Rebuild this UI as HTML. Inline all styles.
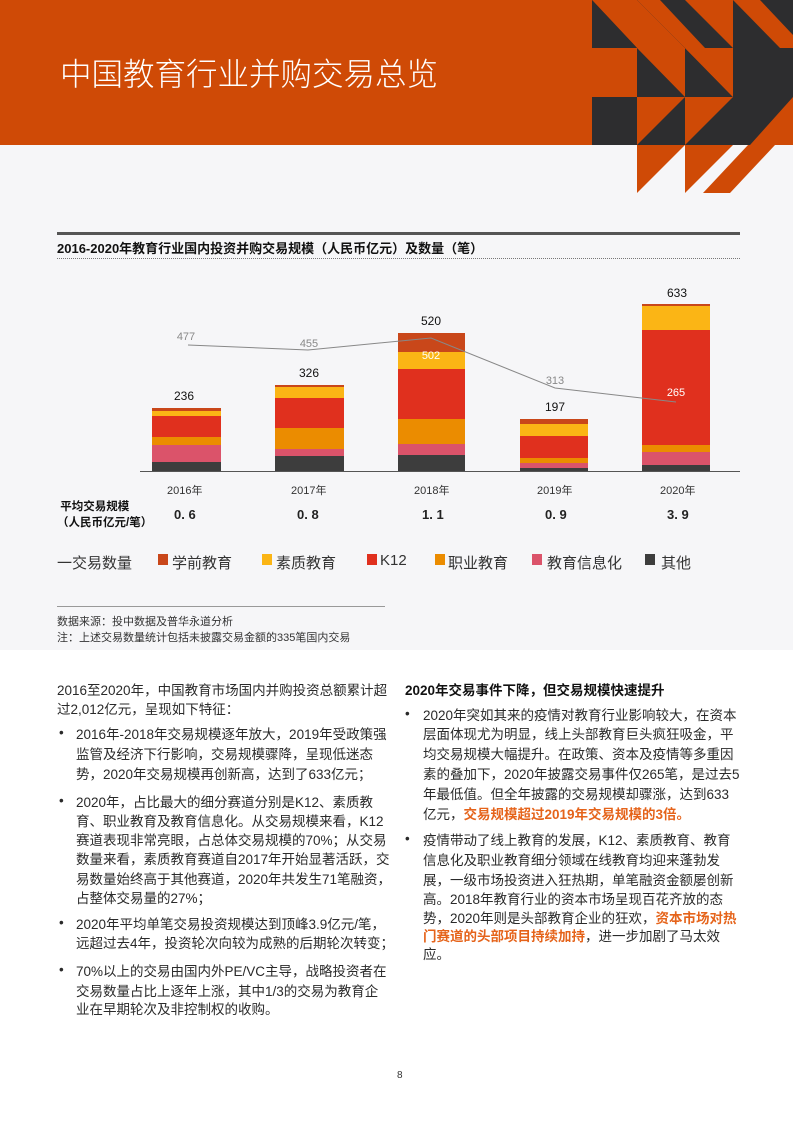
<!DOCTYPE html>
<html><head><meta charset="utf-8"><style>
*{margin:0;padding:0}
body{width:793px;height:1122px;position:relative;background:#fff;font-family:"Liberation Sans","Noto Sans CJK SC",sans-serif;overflow:hidden;color:#222}
.t{position:absolute;white-space:nowrap}
.l{font-size:13.5px;color:#2a2a2a}
.hl{color:#e5631a;font-weight:bold}
</style></head><body>
<div style="position:absolute;left:0;top:0;width:793px;height:650px;background:#f6f6f8"></div>
<div style="position:absolute;left:0;top:0;width:592px;height:145px;background:#cf4a06"></div>
<div class="t" style="left:60px;top:49px;font-size:31.5px;color:#fff;font-family:'Noto Sans CJK SC',sans-serif;font-weight:300">中国教育行业并购交易总览</div>
<svg style="position:absolute;left:0;top:0" width="793" height="200">
<rect x="592" y="0" width="201" height="145" fill="#2d2d2f"/>
<polygon points="592,0 637,0 685,48 637,48 592,0" fill="#cf4a06"/>
<polygon points="637,0 685,0 733,48 685,48" fill="#2d2d2f"/>
<polygon points="592,0 637,48 592,48" fill="#2d2d2f"/>
<polygon points="637,0 660,0 705,48 685,48" fill="#cf4a06"/>
<polygon points="685,0 733,0 733,48" fill="#cf4a06"/>
<polygon points="733,0 760,0 793,35 793,48 780,48" fill="#cf4a06"/>
<rect x="592" y="48" width="45" height="49" fill="#cf4a06"/>
<polygon points="637,48 685,48 685,97" fill="#cf4a06"/>
<polygon points="685,48 733,48 733,97" fill="#cf4a06"/>
<polygon points="685,48 710,48 733,72 733,97" fill="#cf4a06"/>
<polygon points="637,97 685,97 637,145" fill="#cf4a06"/>
<polygon points="685,97 733,97 685,145" fill="#cf4a06"/>
<polygon points="750,97 793,97 793,145 750,145" fill="#cf4a06"/>
<polygon points="750,97 793,97 750,145" fill="#2d2d2f"/>
<polygon points="637,145 685,145 637,193" fill="#cf4a06"/>
<polygon points="685,145 733,145 685,193" fill="#cf4a06"/>
<polygon points="748,145 775,145 730,193 703,193" fill="#cf4a06"/>
</svg>

<div style="position:absolute;left:57px;top:232px;width:683px;height:3px;background:#555"></div>
<div class="t" style="left:57px;top:238px;font-size:13px;font-weight:bold;color:#111">2016-2020年教育行业国内投资并购交易规模（人民币亿元）及数量（笔）</div>
<div style="position:absolute;left:57px;top:258px;width:683px;border-top:1px dotted #777"></div>

<svg style="position:absolute;left:0;top:280px" width="793" height="200" font-family="Liberation Sans,sans-serif">
<g transform="translate(0,-280)">
<rect x="152" y="408" width="69" height="3" fill="#c9471a"/><rect x="152" y="411" width="69" height="5" fill="#fbb515"/><rect x="152" y="416" width="69" height="21" fill="#e0301e"/><rect x="152" y="437" width="69" height="8" fill="#eb8c00"/><rect x="152" y="445" width="69" height="17" fill="#db536a"/><rect x="152" y="462" width="69" height="9" fill="#3d3d3d"/>
<rect x="275" y="385" width="69" height="2" fill="#c9471a"/><rect x="275" y="387" width="69" height="11" fill="#fbb515"/><rect x="275" y="398" width="69" height="30" fill="#e0301e"/><rect x="275" y="428" width="69" height="21" fill="#eb8c00"/><rect x="275" y="449" width="69" height="7" fill="#db536a"/><rect x="275" y="456" width="69" height="15" fill="#3d3d3d"/>
<rect x="398" y="333" width="67" height="19" fill="#c9471a"/><rect x="398" y="352" width="67" height="17" fill="#fbb515"/><rect x="398" y="369" width="67" height="50" fill="#e0301e"/><rect x="398" y="419" width="67" height="25" fill="#eb8c00"/><rect x="398" y="444" width="67" height="11" fill="#db536a"/><rect x="398" y="455" width="67" height="16" fill="#3d3d3d"/>
<rect x="520" y="419" width="68" height="5" fill="#c9471a"/><rect x="520" y="424" width="68" height="12" fill="#fbb515"/><rect x="520" y="436" width="68" height="22" fill="#e0301e"/><rect x="520" y="458" width="68" height="5" fill="#eb8c00"/><rect x="520" y="463" width="68" height="5" fill="#db536a"/><rect x="520" y="468" width="68" height="3" fill="#3d3d3d"/>
<rect x="642" y="304" width="68" height="2" fill="#c9471a"/><rect x="642" y="306" width="68" height="24" fill="#fbb515"/><rect x="642" y="330" width="68" height="115" fill="#e0301e"/><rect x="642" y="445" width="68" height="7" fill="#eb8c00"/><rect x="642" y="452" width="68" height="13" fill="#db536a"/><rect x="642" y="465" width="68" height="6" fill="#3d3d3d"/>
<line x1="140" y1="471.5" x2="740" y2="471.5" stroke="#555" stroke-width="1"/>
<polyline points="188,345 308,350 431,338 555,388 676,402" fill="none" stroke="#888" stroke-width="1"/>
<g font-size="11" fill="#888" text-anchor="middle">
<text x="186" y="340">477</text><text x="309" y="347">455</text><text x="555" y="384">313</text>
</g>
<text x="431" y="359" font-size="11" fill="#fff" text-anchor="middle">502</text>
<text x="676" y="396" font-size="11" fill="#fff" text-anchor="middle">265</text>
<g font-size="12" fill="#111" text-anchor="middle">
<text x="184" y="400">236</text><text x="309" y="377">326</text><text x="431" y="325">520</text><text x="555" y="411">197</text><text x="677" y="297">633</text>
</g>
</g></svg>

<div class="t" style="left:167px;top:482px;font-size:11px;color:#333">2016年</div>
<div class="t" style="left:291px;top:482px;font-size:11px;color:#333">2017年</div>
<div class="t" style="left:414px;top:482px;font-size:11px;color:#333">2018年</div>
<div class="t" style="left:537px;top:482px;font-size:11px;color:#333">2019年</div>
<div class="t" style="left:660px;top:482px;font-size:11px;color:#333">2020年</div>
<div class="t" style="left:57px;top:499px;font-size:11.5px;font-weight:bold;line-height:16px;color:#111">&nbsp;平均交易规模<br>（人民币亿元/笔）</div>
<div class="t" style="left:174px;top:507px;font-size:13px;font-weight:bold">0. 6</div>
<div class="t" style="left:297px;top:507px;font-size:13px;font-weight:bold">0. 8</div>
<div class="t" style="left:422px;top:507px;font-size:13px;font-weight:bold">1. 1</div>
<div class="t" style="left:545px;top:507px;font-size:13px;font-weight:bold">0. 9</div>
<div class="t" style="left:667px;top:507px;font-size:13px;font-weight:bold">3. 9</div>

<div class="t" style="left:57px;top:552px;font-size:15px;color:#333">一交易数量</div>
<div style="position:absolute;left:158px;top:554px;width:10px;height:11px;background:#c9471a"></div><div class="t" style="left:172px;top:552px;font-size:15px;color:#333">学前教育</div>
<div style="position:absolute;left:262px;top:554px;width:10px;height:11px;background:#fbb515"></div><div class="t" style="left:276px;top:552px;font-size:15px;color:#333">素质教育</div>
<div style="position:absolute;left:367px;top:554px;width:10px;height:11px;background:#e0301e"></div><div class="t" style="left:380px;top:552px;font-size:15px;color:#333">K12</div>
<div style="position:absolute;left:435px;top:554px;width:10px;height:11px;background:#eb8c00"></div><div class="t" style="left:448px;top:552px;font-size:15px;color:#333">职业教育</div>
<div style="position:absolute;left:532px;top:554px;width:10px;height:11px;background:#db536a"></div><div class="t" style="left:547px;top:552px;font-size:15px;color:#333">教育信息化</div>
<div style="position:absolute;left:645px;top:554px;width:10px;height:11px;background:#3d3d3d"></div><div class="t" style="left:661px;top:552px;font-size:15px;color:#333">其他</div>

<div style="position:absolute;left:57px;top:606px;width:328px;height:1px;background:#999"></div>
<div class="t" style="left:57px;top:613px;font-size:11px;color:#333">数据来源：投中数据及普华永道分析</div>
<div class="t" style="left:57px;top:629px;font-size:11px;color:#333">注：上述交易数量统计包括未披露交易金额的335笔国内交易</div>

<div class="t l" style="left:57px;top:679px">2016至2020年，中国教育市场国内并购投资总额累计超</div>
<div class="t l" style="left:57px;top:698px">过2,012亿元，呈现如下特征：</div>
<div class="t l" style="left:59px;top:725px">•</div>
<div class="t l" style="left:76px;top:723px">2016年-2018年交易规模逐年放大，2019年受政策强</div>
<div class="t l" style="left:76px;top:743px">监管及经济下行影响，交易规模骤降，呈现低迷态</div>
<div class="t l" style="left:76px;top:763px">势，2020年交易规模再创新高，达到了633亿元；</div>
<div class="t l" style="left:59px;top:793px">•</div>
<div class="t l" style="left:76px;top:791px">2020年，占比最大的细分赛道分别是K12、素质教</div>
<div class="t l" style="left:76px;top:810px">育、职业教育及教育信息化。从交易规模来看，K12</div>
<div class="t l" style="left:76px;top:829px">赛道表现非常亮眼，占总体交易规模的70%；从交易</div>
<div class="t l" style="left:76px;top:848px">数量来看，素质教育赛道自2017年开始显著活跃，交</div>
<div class="t l" style="left:76px;top:868px">易数量始终高于其他赛道，2020年共发生71笔融资，</div>
<div class="t l" style="left:76px;top:887px">占整体交易量的27%；</div>
<div class="t l" style="left:59px;top:915px">•</div>
<div class="t l" style="left:76px;top:913px">2020年平均单笔交易投资规模达到顶峰3.9亿元/笔，</div>
<div class="t l" style="left:76px;top:932px">远超过去4年，投资轮次向较为成熟的后期轮次转变；</div>
<div class="t l" style="left:59px;top:962px">•</div>
<div class="t l" style="left:76px;top:960px">70%以上的交易由国内外PE/VC主导，战略投资者在</div>
<div class="t l" style="left:76px;top:980px">交易数量占比上逐年上涨，其中1/3的交易为教育企</div>
<div class="t l" style="left:76px;top:998px">业在早期轮次及非控制权的收购。</div>

<div class="t" style="left:405px;top:679px;font-size:13.5px;font-weight:bold;color:#111">2020年交易事件下降，但交易规模快速提升</div>
<div class="t l" style="left:405px;top:706px">•</div>
<div class="t l" style="left:423px;top:704px">2020年突如其来的疫情对教育行业影响较大，在资本</div>
<div class="t l" style="left:423px;top:723px">层面体现尤为明显，线上头部教育巨头疯狂吸金，平</div>
<div class="t l" style="left:423px;top:743px">均交易规模大幅提升。在政策、资本及疫情等多重因</div>
<div class="t l" style="left:423px;top:763px">素的叠加下，2020年披露交易事件仅265笔，是过去5</div>
<div class="t l" style="left:423px;top:783px">年最低值。但全年披露的交易规模却骤涨，达到633</div>
<div class="t l" style="left:423px;top:803px">亿元，<span class="hl">交易规模超过2019年交易规模的3倍。</span></div>
<div class="t l" style="left:405px;top:831px">•</div>
<div class="t l" style="left:423px;top:829px">疫情带动了线上教育的发展，K12、素质教育、教育</div>
<div class="t l" style="left:423px;top:849px">信息化及职业教育细分领域在线教育均迎来蓬勃发</div>
<div class="t l" style="left:423px;top:869px">展，一级市场投资进入狂热期，单笔融资金额屡创新</div>
<div class="t l" style="left:423px;top:888px">高。2018年教育行业的资本市场呈现百花齐放的态</div>
<div class="t l" style="left:423px;top:907px">势，2020年则是头部教育企业的狂欢，<span class="hl">资本市场对热</span></div>
<div class="t l" style="left:423px;top:925px"><span class="hl">门赛道的头部项目持续加持</span>，进一步加剧了马太效</div>
<div class="t l" style="left:423px;top:943px">应。</div>

<div class="t" style="left:397px;top:1070px;font-size:10px;color:#333">8</div>
</body></html>
